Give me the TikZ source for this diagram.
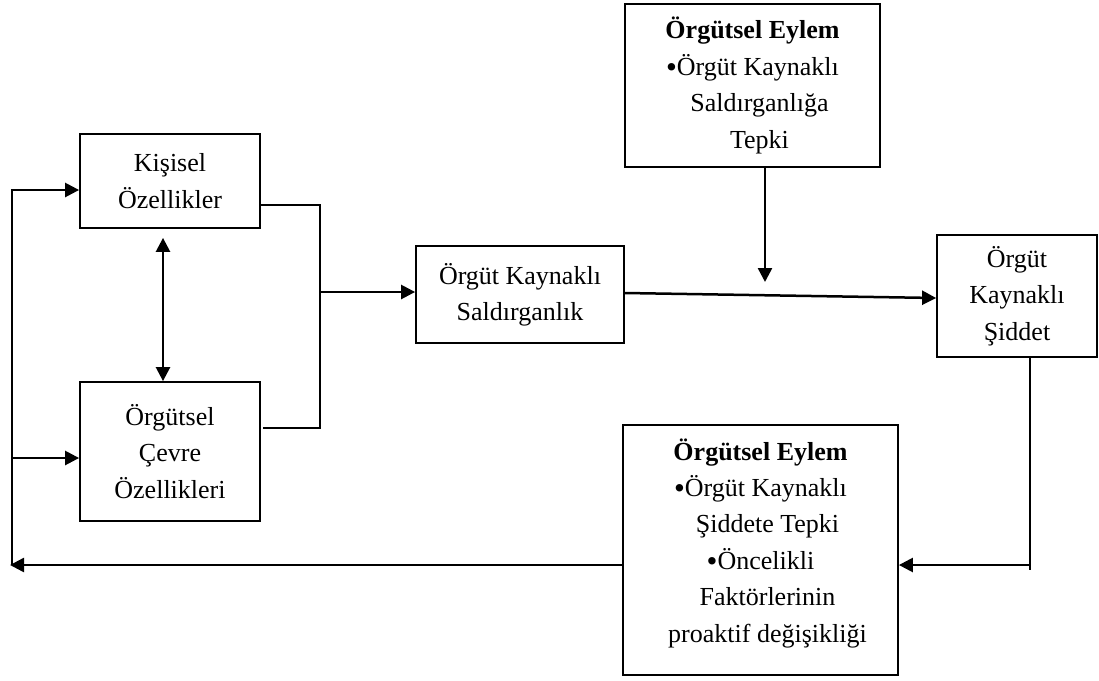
\documentclass[tikz,border=0pt]{standalone}
\usepackage{fontspec}
\setmainfont{Liberation Serif}
\usetikzlibrary{arrows.meta}

% bullet used in the action boxes
\newcommand{\madde}{\raisebox{-2.5pt}{\fontsize{31}{36.4}\selectfont •}}

\tikzset{
  kutu/.style={draw, line width=1.8pt, align=center, inner sep=0pt,
               font=\fontsize{26}{36.4}\selectfont},
  yazi/.style={align=center, inner sep=0pt, font=\fontsize{26}{36.4}\selectfont},
  ince/.style={line width=1.5pt},
  kalin/.style={line width=2.5pt},
  ok/.style={kalin, -{Triangle[length=14pt,width=14pt]}},
  ciftok/.style={kalin, {Triangle[length=14pt,width=14pt]}-{Triangle[length=14pt,width=14pt]}}
}

\begin{document}
\begin{tikzpicture}[x=1pt,y=-1pt]
\useasboundingbox (0,0) rectangle (1099,680);

% boxes
\node[kutu, minimum width=180pt, minimum height=94pt] (kisisel) at (170,181)
  {Kişisel\\Özellikler};
\node[kutu, minimum width=180pt, minimum height=139pt] (cevre) at (170,451.5)
  {Örgütsel\\Çevre\\Özellikleri};
\node[kutu, minimum width=208pt, minimum height=97pt] (sald) at (520,294.5)
  {Örgüt Kaynaklı\\Saldırganlık};
\node[kutu, minimum width=160pt, minimum height=122pt] (siddet) at (1017,296)
  {Örgüt\\Kaynaklı\\Şiddet};
\node[kutu, minimum width=255pt, minimum height=163pt] (eylemUst) at (752.5,85.5)
  {\textbf{Örgütsel Eylem}\\\madde Örgüt Kaynaklı\\\hspace*{14pt}Saldırganlığa\\\hspace*{14pt}Tepki};
\node[kutu, minimum width=275pt, minimum height=250pt] (eylemAlt) at (760.5,550) {};
\node[yazi] (eylemAltYazi) at (760.5,543)
  {\textbf{Örgütsel Eylem}\\\madde Örgüt Kaynaklı\\\hspace*{14pt}Şiddete Tepki\\\madde Öncelikli\\\hspace*{14pt}Faktörlerinin\\\hspace*{14pt}proaktif değişikliği};

% junction points
\coordinate (birlesim) at (320,292);
\coordinate (kisiselCikis) at (260,205);
\coordinate (cevreCikis) at (263,428);
\coordinate (ustOkUcu) at (765,282);
\coordinate (sagAlt) at (1030,565);
\coordinate (sagUc) at (1030,570);
\coordinate (solAlt) at (12,565);
\coordinate (solUc) at (10,565);
\coordinate (solUst) at (12,190);
\coordinate (solOrta) at (12,458);

% merging the two inputs
\draw[ince] (kisiselCikis) -| (birlesim) |- (cevreCikis);
\draw[ok] (birlesim) -- (sald.west |- birlesim);
\draw[ciftok] ([xshift=-7pt,yshift=-9pt]kisisel.south) -- ([xshift=-7pt]cevre.north);

% main flow
\draw[kalin, -{Triangle[length=14pt,width=14pt]}] ([yshift=1.5pt]sald.east) -- ([yshift=-2pt]siddet.west);
\draw[ok] (eylemUst.south -| ustOkUcu) -- (ustOkUcu);

% feedback loop
\draw[ince] (siddet.south -| sagAlt) -- (sagUc);
\draw[ok] (sagAlt) -- (eylemAlt.east |- sagAlt);
\draw[ok] (eylemAlt.west |- solAlt) -- (solUc);
\draw[kalin] (solAlt) -- (solUst);
\draw[ok] ([xshift=-1.25pt]solUst) -- (kisisel.west |- solUst);
\draw[ok] (solOrta) -- (cevre.west |- solOrta);
\end{tikzpicture}
\end{document}
